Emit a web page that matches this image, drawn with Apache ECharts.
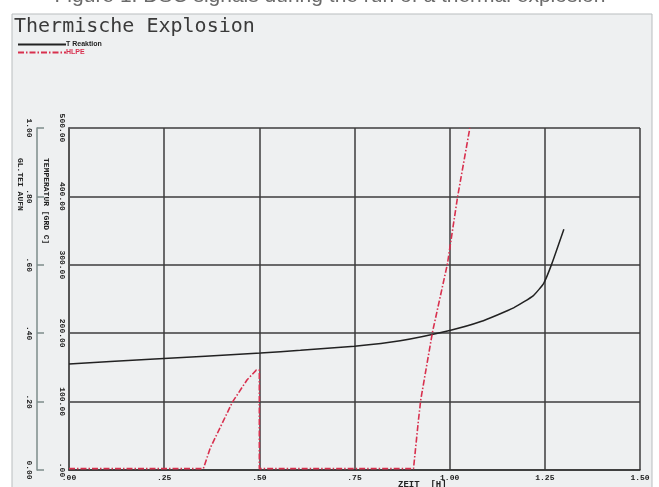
<!DOCTYPE html>
<html>
<head>
<meta charset="utf-8">
<script src="https://cdn.jsdelivr.net/npm/echarts@6/dist/echarts.min.js"></script>
<style>
  html, body { margin: 0; padding: 0; background: #ffffff; }
  #main { width: 659px; height: 487px; }
</style>
</head>
<body>
<div id="main"></div>
<script>
// Daten
var xLabels = ['.00', '.25', '.50', '.75', '1.00', '1.25', '1.50'];
var tempLabels = ['.00', '100.00', '200.00', '300.00', '400.00', '500.00'];
var leistLabels = ['0.00', '.20', '.40', '.60', '.80', '1.00'];

// T Reaktion [GRD C] ueber Zeit [H]
var tReaktion = [
    [0.00, 155], [0.213, 162], [0.503, 171], [0.608, 175], [0.75, 181],
    [0.87, 189], [1.00, 204], [1.082, 217], [1.168, 237], [1.22, 255],
    [1.247, 273], [1.268, 301], [1.30, 352]
];
// HLPE (rechte Skala 0..1)
var hlpe = [
    [0.00, 0.004], [0.353, 0.004], [0.371, 0.064], [0.429, 0.198], [0.468, 0.264],
    [0.492, 0.292], [0.50, 0.292], [0.50, 0.004], [0.905, 0.004], [0.918, 0.146],
    [0.924, 0.205], [0.955, 0.404], [0.994, 0.602], [1.021, 0.80], [1.053, 1.00]
];

var labelFont = {fontFamily: 'Liberation Mono', fontWeight: 'bold', fontSize: 8, color: '#222'};

var chart = echarts.init(document.getElementById('main'));
var option = {
    animation: false,
    backgroundColor: '#ffffff',
    graphic: [
        { type: 'rect', z: -10, shape: {x: 12, y: 14, width: 640, height: 480},
          style: {fill: '#eef0f1', stroke: '#b9bdbf', lineWidth: 1} },
        { type: 'text', z: 10, style: {x: 330, y: -14, text: 'Figure 1: DSC signals during the run of a thermal explosion',
          font: '21px "Liberation Sans"', fill: '#6a6a6a', textAlign: 'center'} },
        { type: 'text', z: 10, style: {x: 14, y: 17, text: 'Thermische Explosion',
          font: '20px "DejaVu Sans Mono"', fill: '#3a3a3a'} },
        { type: 'text', z: 10, x: 50, y: 158, rotation: -Math.PI / 2,
          style: {x: 0, y: 0, text: 'TEMPERATUR [GRD C]', font: 'bold 8px "Liberation Mono"', fill: '#222'} },
        { type: 'text', z: 10, x: 24, y: 158, rotation: -Math.PI / 2,
          style: {x: 0, y: 0, text: 'GL.TEI AUFN', font: 'bold 8px "Liberation Mono"', fill: '#222'} },
        { type: 'text', z: 10, style: {x: 398, y: 480, text: 'ZEIT  [H]',
          font: 'bold 9px "Liberation Mono"', fill: '#222'} }
    ],
    legend: {
        orient: 'vertical',
        left: 12,
        top: 36,
        itemWidth: 48,
        itemHeight: 8,
        itemGap: 1,
        itemStyle: {opacity: 0},
        data: [
            {name: 'T Reaktion', textStyle: {color: '#222'}},
            {name: 'HLPE', textStyle: {color: '#d8304e'}}
        ],
        textStyle: {fontFamily: 'Liberation Sans', fontWeight: 'bold', fontSize: 7, padding: [0, 0, 0, -5]}
    },
    grid: {left: 69, right: 19, top: 128, bottom: 17, containLabel: false},
    xAxis: {
        type: 'value', min: 0, max: 1.5, interval: 0.25,
        axisLine: {show: true, lineStyle: {color: '#333', width: 1.5}},
        axisTick: {show: false},
        axisLabel: Object.assign({margin: 4, formatter: function (v) { return xLabels[Math.round(v / 0.25)]; }}, labelFont),
        splitLine: {show: true, lineStyle: {color: '#3c3c3c', width: 1.5}}
    },
    yAxis: [
        {
            type: 'value', min: 0, max: 500, interval: 100, position: 'left',
            axisLine: {show: true, lineStyle: {color: '#555', width: 2}},
            axisTick: {show: false},
            axisLabel: Object.assign({margin: 3, rotate: -90, formatter: function (v) { return tempLabels[Math.round(v / 100)]; }}, labelFont),
            splitLine: {show: true, lineStyle: {color: '#3c3c3c', width: 1.5}}
        },
        {
            type: 'value', min: 0, max: 1, interval: 0.2, position: 'left', offset: 32,
            axisLine: {show: true, lineStyle: {color: '#7d8c8a', width: 1.5}},
            axisTick: {show: true, inside: true, length: 7, lineStyle: {color: '#7d8c8a', width: 1.5}},
            axisLabel: Object.assign({margin: 4, rotate: -90, formatter: function (v) { return leistLabels[Math.round(v / 0.2)]; }}, labelFont),
            splitLine: {show: false}
        }
    ],
    series: [
        {
            name: 'T Reaktion', type: 'line', yAxisIndex: 0, data: tReaktion,
            symbol: 'none', smooth: 0.15, z: 5,
            lineStyle: {color: '#222', width: 1.5},
            itemStyle: {color: '#222'}
        },
        {
            name: 'HLPE', type: 'line', yAxisIndex: 1, data: hlpe,
            symbol: 'none', z: 6,
            lineStyle: {color: '#d8304e', width: 1.6, type: [6, 2, 1.5, 2]},
            itemStyle: {color: '#d8304e'}
        }
    ]
};
chart.setOption(option);
</script>
</body>
</html>
